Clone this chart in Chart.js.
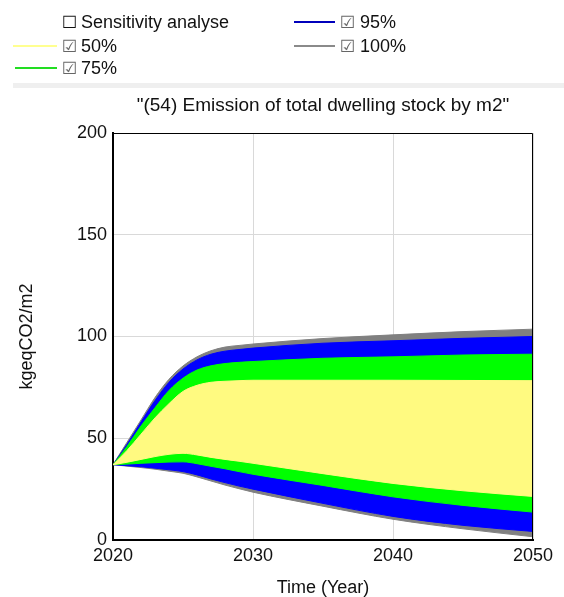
<!DOCTYPE html>
<html>
<head>
<meta charset="utf-8">
<script src="https://cdn.jsdelivr.net/npm/chart.js@4.4.0/dist/chart.umd.min.js"></script>
<style>
    html, body { margin: 0; padding: 0; background: #fff; }
    body { width: 564px; height: 597px; position: relative; overflow: hidden;
           font-family: "Liberation Sans", Arial, sans-serif; color: #111; }
    #myChart { position: absolute; left: 0; top: 0; }
    .lg { position: absolute; font-size: 18px; line-height: 22px; height: 22px; white-space: nowrap; z-index: 2; }
    .box { position: absolute; font-family: "DejaVu Sans", sans-serif; font-size: 17px; line-height: 22px; z-index: 2; }
    .chk { color: #666; }
    .ln { position: absolute; height: 2px; z-index: 2; }
    #sep { position: absolute; left: 13px; top: 83px; width: 551px; height: 5px; background: #efefef; }
    #title { position: absolute; left: 63px; width: 520px; top: 93px; text-align: center;
             font-size: 19px; line-height: 24px; z-index: 2; }
</style>
</head>
<body>
<canvas id="myChart" width="564" height="597"></canvas>

<div class="box" style="left:62px; top:11px;">☐</div>
<div class="lg" style="left:81px; top:11px;">Sensitivity analyse</div>

<div class="ln" style="left:13px; width:44px; top:45px; background:#ffff90;"></div>
<div class="box chk" style="left:62px; top:35px;">☑</div>
<div class="lg" style="left:81px; top:35px;">50%</div>

<div class="ln" style="left:15px; width:42px; top:67px; background:#22dd22;"></div>
<div class="box chk" style="left:62px; top:57px;">☑</div>
<div class="lg" style="left:81px; top:57px;">75%</div>

<div class="ln" style="left:294px; width:41px; top:21px; background:#0000bb;"></div>
<div class="box chk" style="left:340px; top:11px;">☑</div>
<div class="lg" style="left:360px; top:11px;">95%</div>

<div class="ln" style="left:294px; width:41px; top:45px; background:#8a8a8a;"></div>
<div class="box chk" style="left:340px; top:35px;">☑</div>
<div class="lg" style="left:360px; top:35px;">100%</div>

<div id="sep"></div>
<div id="title">"(54) Emission of total dwelling stock by m2"</div>

<script>
'use strict';

// time axis (years) and the band edges
let years = [2020, 2021, 2022, 2023, 2024, 2025, 2026, 2027, 2028, 2029, 2030, 2035, 2040, 2045, 2050];

let p100Upper = [37, 48, 59, 70, 79, 85.5, 90, 93, 94.8, 95.6, 96.3, 99, 100.8, 102.4, 103.6];
let p95Upper = [37, 47, 58, 68.5, 77.5, 84, 88.5, 91.3, 92.8, 93.6, 94.3, 96.7, 97.9, 99.1, 100];
let p75Upper = [37, 46, 56, 65, 73.5, 79.5, 83.5, 85.6, 86.7, 87.3, 87.7, 89.3, 90, 90.9, 91.3];
let p50Upper = [37, 44, 52, 60, 67, 73, 76, 77.5, 78, 78.3, 78.5, 78.5, 78.5, 78.4, 78.3];
let p50Lower = [37, 38.2, 39.6, 41, 42.1, 42.6, 41.8, 40.6, 39.6, 38.7, 37.7, 32.6, 27.8, 24.2, 21.4];
let p75Lower = [37, 37.3, 37.7, 38, 38.3, 38.4, 37.5, 36.2, 35, 33.6, 32.3, 26.8, 21.2, 17, 13.7];
let p95Lower = [37, 36.5, 36, 35.3, 34.5, 33.6, 32, 30, 28.2, 26.5, 25, 18, 11.6, 7.2, 4.2];
let p100Lower = [37, 36.3, 35.6, 34.8, 33.8, 32.8, 31, 29, 27, 25.2, 23.5, 16.6, 10.2, 5.5, 1.6];

let xTicks = [2020, 2030, 2040, 2050];
let yTicks = [0, 50, 100, 150, 200];

let font = '"Liberation Sans", Arial, sans-serif';

function points(values) {
    let out = [];
    for (let i = 0; i < years.length; i++) {
        out.push({ x: years[i], y: values[i] });
    }
    return out;
}

function band(label, upper, lower, color) {
    // upper edge fills down to the next dataset (the lower edge)
    return [{
        label: label,
        data: points(upper),
        fill: '+1',
        backgroundColor: color,
        borderColor: color,
        borderWidth: 1
    }, {
        label: label + ' low',
        data: points(lower),
        fill: false,
        borderColor: color,
        borderWidth: 1
    }];
}

// first dataset is drawn last, so the narrowest band goes first
let datasets = [].concat(
    band('50%', p50Upper, p50Lower, '#fffa80'),
    band('75%', p75Upper, p75Lower, '#00ff00'),
    band('95%', p95Upper, p95Lower, '#0000ff'),
    band('100%', p100Upper, p100Lower, '#808080')
);

let frame = {
    id: 'frame',
    afterDraw(chart) {
        let a = chart.chartArea;
        let c = chart.ctx;
        c.save();
        c.strokeStyle = '#000';
        c.lineWidth = 1;
        c.beginPath();
        c.moveTo(a.left, a.top + 0.5);
        c.lineTo(a.right - 0.5, a.top + 0.5);
        c.lineTo(a.right - 0.5, a.bottom);
        c.stroke();
        c.restore();
    }
};

let ctx = document.getElementById('myChart').getContext('2d');

let myChart = new Chart(ctx, {
    type: 'line',
    data: { datasets: datasets },
    plugins: [frame],
    options: {
        responsive: false,
        animation: false,
        layout: { padding: { top: 133, right: 31, left: 0, bottom: 0 } },
        elements: {
            point: { radius: 0 },
            line: { cubicInterpolationMode: 'monotone' }
        },
        plugins: {
            legend: { display: false },
            tooltip: { enabled: false }
        },
        scales: {
            x: {
                type: 'linear',
                min: 2020,
                max: 2050,
                afterFit: s => { s.height = 57; },
                afterBuildTicks: s => { s.ticks = xTicks.map(v => ({ value: v })); },
                grid: { color: '#d9d9d9', drawTicks: false },
                border: { color: '#000', width: 2 },
                ticks: {
                    padding: 5,
                    color: '#111',
                    font: { family: font, size: 18 },
                    callback: v => String(v)
                },
                title: {
                    display: true,
                    text: 'Time (Year)',
                    color: '#111',
                    font: { family: font, size: 18, lineHeight: 1 },
                    padding: { top: 0, bottom: 0 }
                }
            },
            y: {
                min: 0,
                max: 200,
                afterFit: s => { s.width = 113; },
                afterBuildTicks: s => { s.ticks = yTicks.map(v => ({ value: v })); },
                grid: { color: '#d9d9d9', drawTicks: false },
                border: { color: '#000', width: 2 },
                ticks: {
                    padding: 6,
                    color: '#111',
                    font: { family: font, size: 18 }
                },
                title: {
                    display: true,
                    text: 'kgeqCO2/m2',
                    color: '#111',
                    font: { family: font, size: 18 },
                    padding: { top: 16, bottom: 0 }
                }
            }
        }
    }
});
</script>
</body>
</html>
